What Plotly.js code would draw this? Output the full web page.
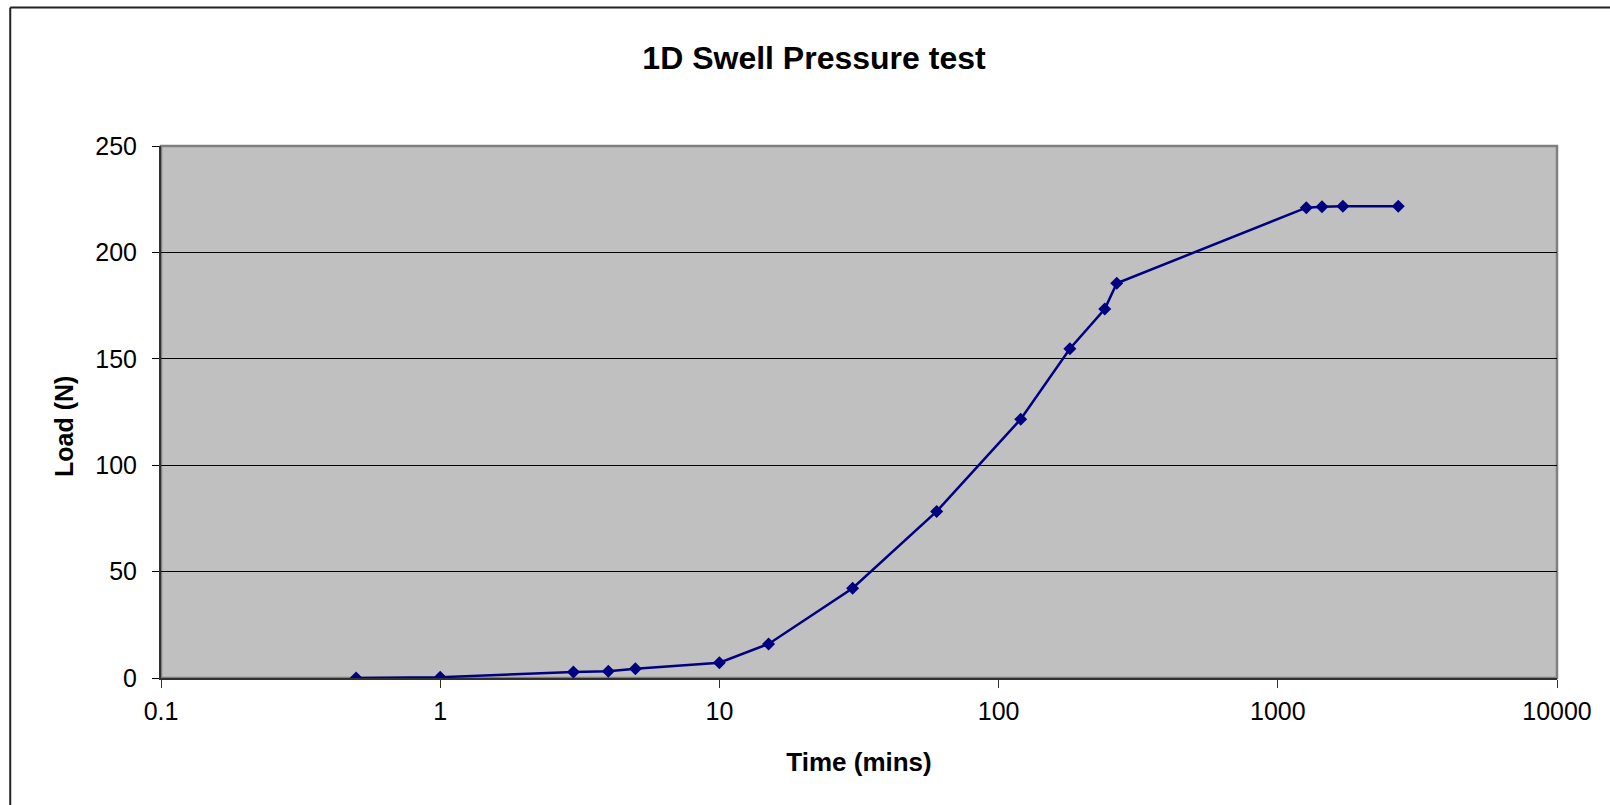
<!DOCTYPE html>
<html>
<head>
<meta charset="utf-8">
<script src="https://cdn.plot.ly/plotly-3.0.1.min.js"></script>
<style>html,body{margin:0;padding:0;background:#fff;}#chart{width:1610px;height:805px;}</style>
</head>
<body>
<div id="chart"></div>
<script>
// Data
const timeMins = [0.5, 1, 3, 4, 5, 10, 15, 30, 60, 120, 180, 240, 265, 1265, 1440, 1710, 2700];
const loadN    = [0, 0.4, 2.8, 3.2, 4.3, 7.2, 16.0, 42.2, 78.3, 121.6, 154.7, 173.4, 185.5, 221.0, 221.5, 221.7, 221.7];
const xTickVals = [0.1, 1, 10, 100, 1000, 10000];
const xTickText = ["0.1", "1", "10", "100", "1000", "10000"];
const yTickVals = [0, 50, 100, 150, 200, 250];

const FONT = "Liberation Sans, Arial, sans-serif";

const trace = {
  x: timeMins,
  y: loadN,
  type: "scatter",
  mode: "lines+markers",
  line: {color: "#000080", width: 2.5},
  marker: {symbol: "diamond", size: 10, color: "#000080"},
  showlegend: false,
  hoverinfo: "x+y"
};

const layout = {
  width: 1610, height: 805,
  margin: {l: 161, r: 53, t: 146, b: 127},
  paper_bgcolor: "#ffffff",
  plot_bgcolor: "#c0c0c0",
  font: {family: FONT, color: "#000", size: 25},
  title: {
    text: "<b>1D Swell Pressure test</b>",
    font: {family: FONT, size: 32, color: "#000"},
    x: 814/1610, xref: "container", xanchor: "center",
    y: 1 - 58/805, yref: "container", yanchor: "middle"
  },
  xaxis: {
    type: "log",
    range: [-1, 4],
    tickvals: xTickVals,
    ticktext: xTickText,
    showgrid: false,
    zeroline: false,
    showline: true, linecolor: "#303030", linewidth: 2,
    ticks: "outside", ticklen: 8, tickcolor: "#303030", tickwidth: 1,
    ticklabelstandoff: 2,
    tickfont: {family: FONT, size: 25, color: "#000"},
    title: {text: "<b>Time (mins)</b>", font: {family: FONT, size: 26, color: "#000"}, standoff: 29},
    automargin: false
  },
  yaxis: {
    range: [0, 250],
    tickvals: yTickVals,
    showgrid: true, gridcolor: "#000000", gridwidth: 1,
    zeroline: false,
    showline: true, linecolor: "#303030", linewidth: 2,
    ticks: "outside", ticklen: 7, tickcolor: "#000", tickwidth: 1,
    ticklabelstandoff: 10,
    tickfont: {family: FONT, size: 25, color: "#000"},
    automargin: false
  },
  annotations: [
    {text: "<b>Load (N)</b>", xref: "paper", yref: "paper",
     x: (64 - 161) / 1396, y: (678 - 427) / 532,
     xanchor: "center", yanchor: "middle", textangle: -90, showarrow: false,
     font: {family: FONT, size: 25, color: "#000"}}
  ],
  shapes: [
    // plot-area border (grey)
    {type: "rect", xref: "paper", yref: "paper", x0: 0, x1: 1, y0: 0, y1: 1,
     line: {color: "#808080", width: 2.5}, fillcolor: "rgba(0,0,0,0)", layer: "below"},
    // outer chart border (left and top edges visible)
    {type: "line", xref: "paper", yref: "paper", x0: -0.108, x1: -0.108, y0: -0.3, y1: 1.2604,
     line: {color: "#222", width: 2}},
    {type: "line", xref: "paper", yref: "paper", x0: -0.108, x1: 1.1, y0: 1.2604, y1: 1.2604,
     line: {color: "#222", width: 2}}
  ]
};

Plotly.newPlot("chart", [trace], layout, {displayModeBar: false, staticPlot: true});
</script>
</body>
</html>
